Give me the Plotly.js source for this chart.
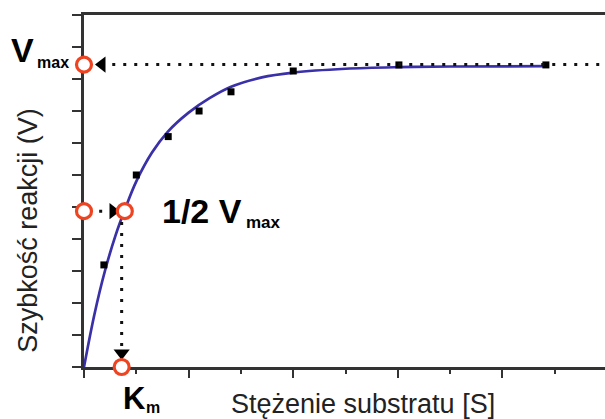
<!DOCTYPE html>
<html>
<head>
<meta charset="utf-8">
<script src="https://cdn.plot.ly/plotly-3.0.1.min.js"></script>
<style>
html,body{margin:0;padding:0;background:#fff;overflow:hidden;}
#chart{width:605px;height:419px;}
</style>
</head>
<body>
<div id="chart"></div>
<script>
// Measured data points (substrate concentration, reaction rate)
const sConc = [0.38, 1.00, 1.61, 2.20, 2.81, 4.00, 6.02, 8.83];
const rate  = [3.19, 6.00, 7.20, 8.00, 8.60, 9.25, 9.44, 9.44];

// Fitted curve
const fitS = [0, 0.2, 0.4, 0.6, 0.8, 1.0, 1.3, 1.6, 2.0, 2.4, 2.8, 3.4, 4.0, 5.0, 6.0, 7.0, 8.83];
const fitV = [0, 1.65, 3.0, 4.1, 5.0, 5.8, 6.7, 7.35, 7.95, 8.4, 8.75, 9.05, 9.2, 9.32, 9.37, 9.39, 9.4];

// Key values
const vmax = 9.45;
const halfV = 4.87;
const km = 0.72;
const halfOnCurveS = 0.78;

// Highlighted points (red circles)
const circX = [0, 0, halfOnCurveS, km];
const circY = [vmax, halfV, halfV, 0];

// Dotted guide extents
const vmaxLineX = [0.54, 10];
const halfLineX = [0.08, 0.42];
const kmLineY = [4.53, 0.66];
// Arrowhead positions
const arrowVmaxX = 0.344;
const arrowHalfX = 0.555;
const arrowKmY = 0.44;

const FONT = 'Arial, "Liberation Sans", sans-serif';
const dotStyle = {color: '#111', width: 3, dash: '3px,8px'};

const traces = [
  {x: fitS, y: fitV, mode: 'lines', line: {color: '#3a30a8', width: 2.7, shape: 'spline', smoothing: 1}, hoverinfo: 'skip'},
  {x: sConc, y: rate, mode: 'markers', marker: {symbol: 'square', size: 7, color: '#000'}},
  {x: vmaxLineX, y: [vmax, vmax], mode: 'lines', line: dotStyle},
  {x: halfLineX, y: [halfV, halfV], mode: 'lines', line: dotStyle},
  {x: [km, km], y: kmLineY, mode: 'lines', line: dotStyle},
  {x: [arrowVmaxX], y: [vmax], mode: 'markers', marker: {symbol: 'triangle-left', size: 14, color: '#000'}, cliponaxis: false},
  {x: [arrowHalfX], y: [halfV], mode: 'markers', marker: {symbol: 'triangle-right', size: 14, color: '#000'}, cliponaxis: false},
  {x: [km], y: [arrowKmY], mode: 'markers', marker: {symbol: 'triangle-down', size: 14, color: '#000'}, cliponaxis: false},
  {x: circX, y: circY, mode: 'markers', marker: {symbol: 'circle', size: 15, color: 'rgba(255,255,255,1)', line: {color: '#ee4422', width: 3.2}}, cliponaxis: false}
];

const annotations = [
  {xref: 'x', yref: 'y', x: 0, y: vmax, text: 'V', showarrow: false, xanchor: 'right', yanchor: 'middle', xshift: -49, yshift: 15, borderpad: 0, font: {family: FONT, size: 34, color: '#000', weight: 'bold'}},
  {xref: 'x', yref: 'y', x: 0, y: vmax, text: 'max', showarrow: false, xanchor: 'left', yanchor: 'middle', xshift: -48, yshift: 2.5, borderpad: 0, font: {family: FONT, size: 16, color: '#000', weight: 'bold'}},
  {xref: 'x', yref: 'y', x: 0, y: halfV, text: '1/2 V', showarrow: false, xanchor: 'left', yanchor: 'middle', xshift: 77, yshift: 0, borderpad: 0, font: {family: FONT, size: 34, color: '#000', weight: 'bold'}},
  {xref: 'x', yref: 'y', x: 0, y: halfV, text: 'max', showarrow: false, xanchor: 'left', yanchor: 'middle', xshift: 161, yshift: -11, borderpad: 0, font: {family: FONT, size: 17, color: '#000', weight: 'bold'}},
  {xref: 'x', yref: 'y', x: 0, y: 0, text: 'K', showarrow: false, xanchor: 'left', yanchor: 'middle', xshift: 38, yshift: -31, borderpad: 0, font: {family: FONT, size: 31, color: '#000', weight: 'bold'}},
  {xref: 'x', yref: 'y', x: 0, y: 0, text: 'm', showarrow: false, xanchor: 'left', yanchor: 'middle', xshift: 61, yshift: -40.5, borderpad: 0, font: {family: FONT, size: 16, color: '#000', weight: 'bold'}},
  {xref: 'paper', yref: 'paper', x: 0.536, y: -0.104, text: 'Stężenie substratu [S]', showarrow: false, xanchor: 'center', yanchor: 'middle', borderpad: 0, font: {family: FONT, size: 27, color: '#222'}},
  {xref: 'paper', yref: 'paper', x: -0.108, y: 0.389, text: 'Szybkość reakcji (V)', textangle: -90, showarrow: false, xanchor: 'center', yanchor: 'middle', borderpad: 0, font: {family: FONT, size: 27, color: '#222'}}
];

const layout = {
  width: 605, height: 419,
  margin: {l: 84, r: 0, t: 15, b: 52, pad: 0},
  paper_bgcolor: '#fff', plot_bgcolor: '#fff',
  showlegend: false,
  xaxis: {
    range: [0, 9.96], showgrid: false, zeroline: false, showticklabels: false,
    showline: true, linecolor: '#333', linewidth: 3, mirror: true,
    ticks: 'outside', dtick: 2, tick0: 0, ticklen: 8, tickwidth: 2, tickcolor: '#333',
    minor: {dtick: 1, tick0: 0, ticks: 'outside', ticklen: 4, tickwidth: 2, tickcolor: '#333', showgrid: false},
    layer: 'below traces', fixedrange: true
  },
  yaxis: {
    range: [0, 11], showgrid: false, zeroline: false, showticklabels: false,
    showline: true, linecolor: '#333', linewidth: 3, mirror: false,
    ticks: 'outside', dtick: 1, tick0: 0, ticklen: 9, tickwidth: 2, tickcolor: '#333',
    layer: 'below traces', fixedrange: true
  },
  annotations: annotations
};

Plotly.newPlot('chart', traces, layout, {displayModeBar: false, staticPlot: true});
</script>
</body>
</html>
